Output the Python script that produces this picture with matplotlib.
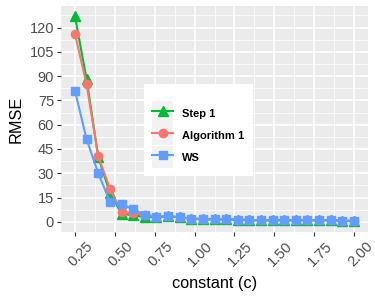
import matplotlib
matplotlib.use("Agg")
import matplotlib.pyplot as plt
import matplotlib.transforms as mtransforms
from matplotlib.patches import Rectangle
import numpy as np

plt.rcParams['font.family'] = ['Liberation Sans', 'DejaVu Sans']

# constant values (25 steps from 0.25 to 2.00)
c = [0.25, 0.323, 0.396, 0.469, 0.542, 0.615, 0.688, 0.760, 0.833, 0.906,
     0.979, 1.052, 1.125, 1.198, 1.271, 1.344, 1.417, 1.490, 1.563, 1.635,
     1.708, 1.781, 1.854, 1.927, 2.0]
step1 = [127, 88, 40, 18, 5, 4, 3, 3, 3.3, 2.8, 2, 1.6, 1.6, 1.6, 1.4,
         1, 1, 1, 1, 1, 1, 1, 1, 0.8, 0.4]
alg1 = [116, 85, 40.5, 20.5, 6, 5.5, 4, 3, 3.3, 2.8, 2, 1.6, 1.6, 1.6, 1.4,
        1, 1, 1, 1, 1, 1, 1, 1, 0.8, 0.4]
ws = [81, 51, 30, 12.5, 11, 7.7, 4.5, 3.1, 3.5, 2.9, 2.0, 1.6, 1.6, 1.6, 1.4,
      1, 1, 1, 1, 1, 1, 1, 1, 0.8, 0.4]
xticks = [0.25, 0.50, 0.75, 1.00, 1.25, 1.50, 1.75, 2.00]
yticks = [0, 15, 30, 45, 60, 75, 90, 105, 120]

W, H = 375, 300
fig = plt.figure(figsize=(3.75, 3.0), dpi=100)
ax = fig.add_axes([61 / W, 1 - 232 / H, 307 / W, 226 / H])
ax.set_facecolor('#EBEBEB')
for s in ax.spines.values():
    s.set_visible(False)

ax.plot(c, step1, color='#00BA38', marker='^', ms=7, lw=1.5, label='Step 1', zorder=3)
ax.plot(c, alg1, color='#F8766D', marker='o', ms=6, lw=1.5, label='Algorithm 1', zorder=4)
ax.plot(c, ws, color='#619CFF', marker='s', ms=6, lw=1.5, label='WS', zorder=5)

ax.set_xlim(0.1625, 2.0875)
ax.set_ylim(-6.3, 133.3)
ax.set_xticks(xticks)
ax.set_xticklabels(['%.2f' % v for v in xticks], rotation=45, ha='center', va='top')
ax.set_yticks(yticks)
ax.set_xticks([0.375, 0.625, 0.875, 1.125, 1.375, 1.625, 1.875], minor=True)
ax.set_yticks([7.5, 22.5, 37.5, 52.5, 67.5, 82.5, 97.5, 112.5, 127.5], minor=True)
ax.grid(True, which='major', color='white', lw=1.1)
ax.grid(True, which='minor', color='white', lw=0.55)
ax.set_axisbelow(True)
ax.tick_params(which='major', length=3, width=0.8, color='#333333', labelsize=10.5,
               labelcolor='#4D4D4D', pad=2)
ax.tick_params(which='minor', length=0)
off = mtransforms.ScaledTranslation(0.06, 0, fig.dpi_scale_trans)
for lab in ax.get_xticklabels():
    lab.set_transform(lab.get_transform() + off)

ax.set_xlabel('constant (c)', fontsize=11.7, labelpad=5)
ax.set_ylabel('RMSE', fontsize=11.7, labelpad=4)

# legend box and grey key backgrounds
ax.add_patch(Rectangle((144 / W, 1 - 176 / H), 109 / W, 92 / H, transform=fig.transFigure,
                       facecolor='white', edgecolor='none', zorder=8, clip_on=False))
for i in range(3):
    top = 100.7 + i * 22.6
    ax.add_patch(Rectangle((151.7 / W, 1 - (top + 22) / H), 21.7 / W, 22 / H,
                           transform=fig.transFigure, facecolor='#F2F2F2',
                           edgecolor='none', zorder=9, clip_on=False))

leg = ax.legend(loc='upper left', bbox_to_anchor=(151.7 / W, 1 - 104.7 / H),
                bbox_transform=fig.transFigure, frameon=False,
                prop={'weight': 'bold', 'size': 8}, handlelength=1.95, handleheight=2.0,
                handletextpad=0.75, labelspacing=0.45, borderpad=0, borderaxespad=0)
leg.set_zorder(10)

fig.savefig('out.png', dpi=100)
